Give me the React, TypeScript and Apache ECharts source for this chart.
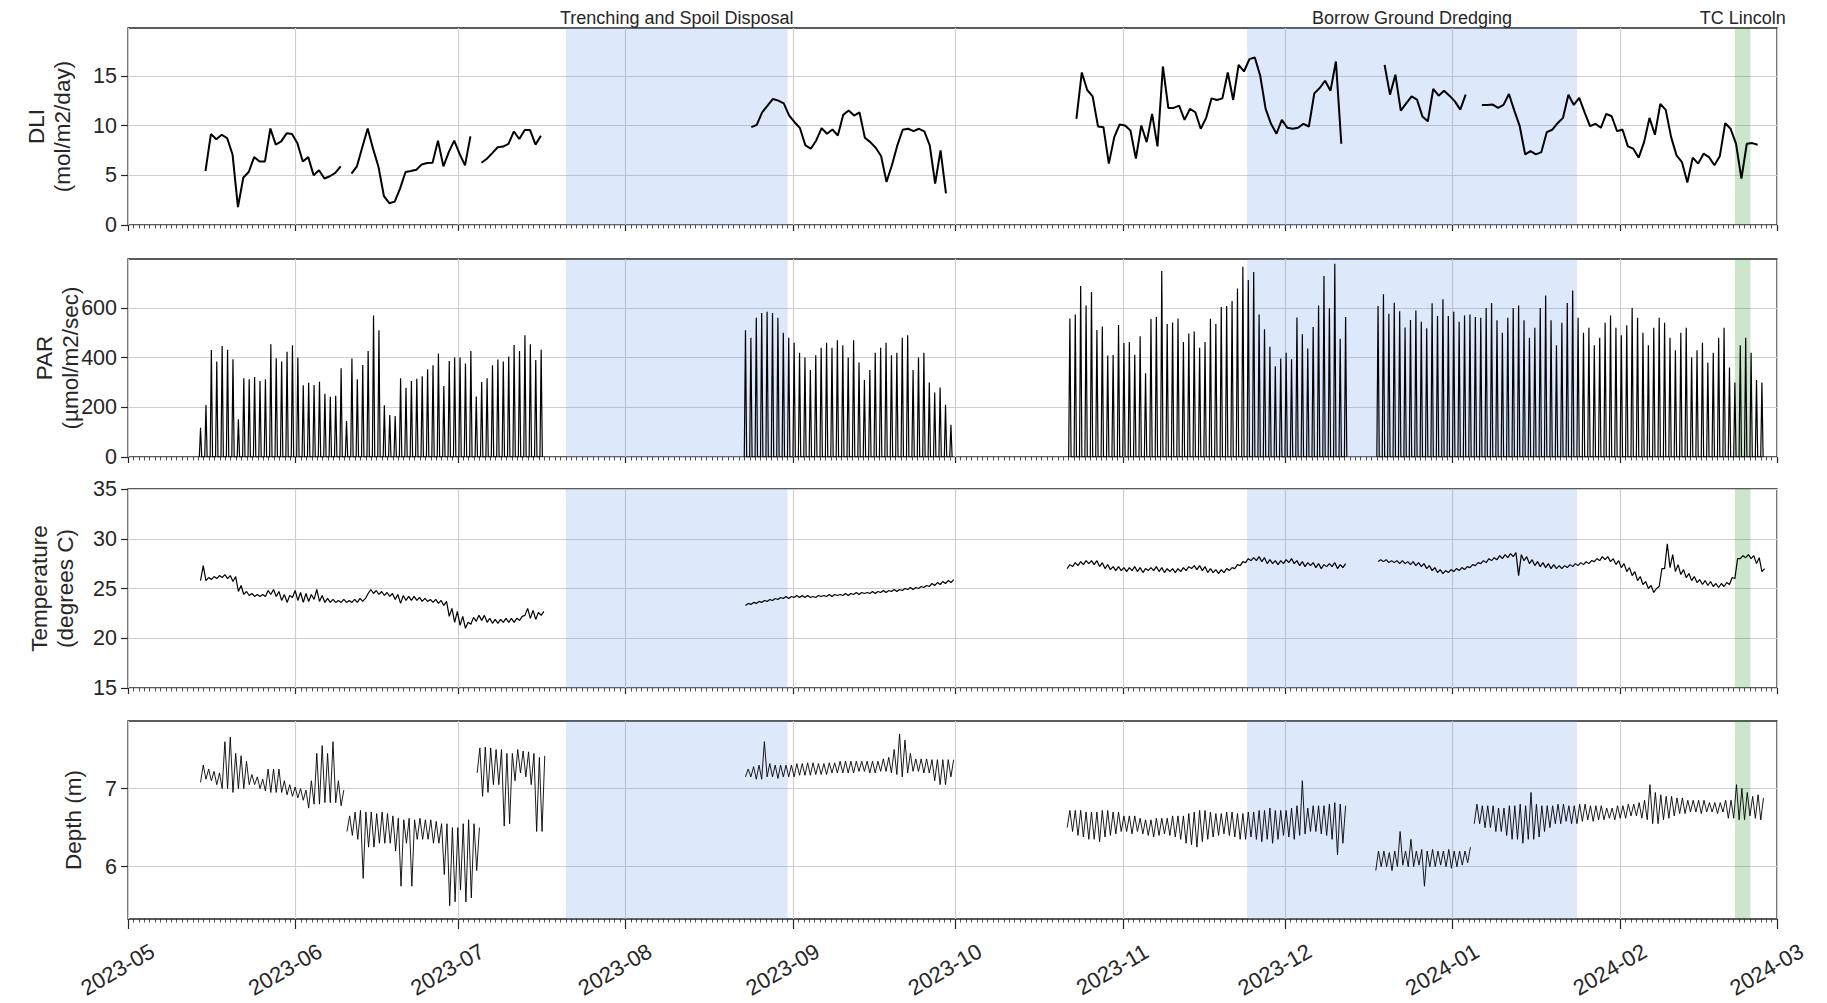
import React, { useEffect, useRef } from 'react';
import * as echarts from 'echarts';

const DAY = 86400000;
const X_MIN = '2023-05-01';
const X_MAX = '2024-03-01';
const monthTicks = ['2023-05-01', '2023-06-01', '2023-07-01', '2023-08-01', '2023-09-01', '2023-10-01', '2023-11-01', '2023-12-01', '2024-01-01', '2024-02-01', '2024-03-01'];

const eventNames = ['Trenching and Spoil Disposal', 'Borrow Ground Dredging', 'TC Lincoln'];
const eventStarts = ['2023-07-21', '2023-11-24', '2024-02-22T05:00:00Z'];
const eventEnds = ['2023-08-31', '2024-01-24', '2024-02-25T02:00:00Z'];
const eventKinds = ['works', 'works', 'cyclone'];

// DLI (mol/m2/day), daily values per deployment segment
const dliStarts = ['2023-05-15T08:00:00Z', '2023-06-11T08:00:00Z', '2023-07-05T09:00:00Z', '2023-08-24T07:00:00Z', '2023-10-23T10:00:00Z', '2023-12-19T10:00:00Z', '2024-01-06T10:00:00Z'];
const dliSeg1 = [5.43, 9.14, 8.61, 9.07, 8.74, 7.09, 1.79, 4.77, 5.33, 6.82, 6.39, 6.39, 9.7, 8.08, 8.41, 9.21, 9.14, 8.21, 6.39, 6.82, 5.0, 5.5, 4.67, 4.9, 5.23, 5.89];
const dliSeg2 = [5.17, 5.89, 7.81, 9.7, 7.65, 5.83, 2.91, 2.19, 2.35, 3.68, 5.33, 5.43, 5.56, 6.09, 6.23, 6.26, 8.48, 5.89, 7.32, 8.48, 7.15, 5.99, 8.91];
const dliSeg3 = [6.26, 6.66, 7.22, 7.81, 7.88, 8.15, 9.4, 8.64, 9.54, 9.54, 8.08, 8.97];
const dliSeg4 = [9.83, 10.07, 11.33, 12.0, 12.67, 12.5, 12.23, 11.0, 10.33, 9.73, 8.0, 7.67, 8.5, 9.73, 9.17, 9.6, 9.0, 11.07, 11.5, 11.0, 11.33, 8.77, 8.33, 7.77, 6.93, 4.33, 6.0, 8.0, 9.57, 9.67, 9.43, 9.67, 9.4, 8.0, 4.17, 7.5, 3.17];
const dliSeg5 = [10.67, 15.33, 13.57, 12.93, 9.9, 9.83, 6.17, 8.83, 10.1, 10.0, 9.5, 6.67, 10.0, 8.33, 11.17, 7.9, 15.93, 11.77, 11.77, 12.0, 10.57, 11.67, 11.33, 9.67, 10.77, 12.73, 12.57, 12.73, 15.33, 12.57, 16.1, 15.43, 16.67, 16.83, 15.0, 11.67, 10.17, 9.17, 10.57, 9.77, 9.67, 9.77, 10.17, 9.9, 13.23, 13.77, 14.5, 13.5, 16.43, 8.17];
const dliSeg6 = [16.1, 13.1, 15.1, 11.5, 12.23, 12.93, 12.6, 10.9, 10.43, 13.67, 13.0, 13.5, 13.0, 12.43, 11.6, 13.1];
const dliSeg7 = [12.07, 12.07, 12.1, 11.77, 12.07, 13.17, 11.5, 9.93, 7.1, 7.43, 7.1, 7.33, 9.33, 9.57, 10.23, 10.77, 13.1, 12.07, 12.77, 11.33, 9.93, 10.17, 9.77, 11.17, 10.93, 9.43, 9.6, 7.9, 7.67, 6.77, 8.33, 10.77, 9.07, 12.17, 11.57, 8.83, 7.0, 6.33, 4.27, 6.77, 6.17, 7.17, 6.83, 6.0, 6.9, 10.23, 9.67, 8.17, 4.67, 8.17, 8.23, 8.07];

// PAR daily peaks (umol/m2/sec); nights read as 0
const parStarts = ['2023-05-14T10:00:00Z', '2023-08-23T05:00:00Z', '2023-10-22T05:00:00Z', '2023-12-18T05:00:00Z'];
const parSeg1 = [118, 209, 431, 384, 447, 432, 393, 152, 317, 313, 322, 306, 313, 454, 397, 384, 424, 450, 400, 289, 299, 290, 303, 255, 242, 246, 357, 145, 396, 313, 370, 427, 570, 510, 208, 169, 165, 317, 279, 306, 315, 325, 353, 369, 417, 286, 386, 400, 400, 376, 427, 243, 302, 317, 369, 392, 384, 405, 451, 427, 490, 454, 390, 432];
const parSeg2 = [510, 480, 560, 580, 585, 580, 560, 500, 480, 460, 420, 400, 350, 410, 440, 460, 440, 470, 450, 400, 470, 380, 310, 350, 420, 440, 460, 410, 420, 480, 490, 350, 400, 420, 300, 260, 280, 210, 130];
const parSeg3 = [557, 574, 688, 610, 664, 511, 525, 409, 411, 531, 459, 463, 412, 486, 337, 555, 564, 749, 535, 541, 557, 463, 497, 505, 440, 463, 556, 535, 604, 608, 628, 678, 766, 712, 745, 574, 514, 444, 365, 396, 420, 393, 561, 494, 437, 523, 610, 729, 599, 778, 476, 564];
const parSeg4 = [608, 655, 577, 621, 587, 521, 551, 590, 544, 518, 619, 568, 635, 568, 585, 544, 570, 574, 564, 560, 600, 620, 550, 500, 560, 600, 610, 550, 480, 520, 600, 650, 550, 450, 540, 620, 670, 560, 500, 520, 450, 480, 540, 570, 520, 490, 530, 600, 560, 500, 450, 520, 560, 540, 480, 430, 500, 520, 400, 430, 460, 380, 420, 480, 520, 360, 300, 450, 480, 420, 310, 300];
const parNight = 0;

// Temperature (degrees C), daily low and high
const tempStarts = ['2023-05-14T10:00:00Z', '2023-08-23T05:00:00Z', '2023-10-21T17:00:00Z', '2023-12-18T05:00:00Z'];
const tempLo1 = [25.8, 25.8, 25.9, 26.0, 26.1, 26.0, 25.7, 24.7, 24.4, 24.3, 24.2, 24.2, 24.2, 24.4, 24.2, 23.8, 23.6, 24.1, 23.8, 23.6, 23.7, 23.9, 23.7, 23.6, 23.6, 23.6, 23.6, 23.6, 23.6, 23.6, 23.7, 24.5, 24.5, 24.4, 24.3, 24.2, 23.9, 23.5, 23.8, 23.8, 23.8, 23.7, 23.7, 23.6, 23.5, 23.3, 22.2, 21.6, 21.3, 21.0, 21.4, 21.7, 21.8, 21.6, 21.5, 21.5, 21.6, 21.6, 21.6, 21.8, 22.3, 22.0, 21.9, 22.3];
const tempHi1 = [27.3, 26.1, 26.2, 26.3, 26.4, 26.3, 26.2, 25.3, 24.7, 24.5, 24.4, 24.4, 24.8, 24.9, 24.7, 24.4, 24.3, 24.8, 24.6, 24.5, 24.4, 24.9, 24.3, 24.0, 23.9, 23.8, 23.9, 23.8, 23.9, 24.0, 24.0, 24.9, 24.8, 24.7, 24.6, 24.5, 24.4, 24.3, 24.2, 24.2, 24.1, 24.0, 23.9, 23.9, 23.8, 23.7, 23.0, 22.7, 22.2, 21.6, 22.1, 22.3, 22.3, 22.0, 21.9, 21.9, 22.0, 22.0, 22.0, 22.2, 23.0, 22.8, 22.6, 22.7];
const tempLo2 = [23.3, 23.4, 23.5, 23.6, 23.7, 23.8, 23.9, 24.0, 24.0, 24.1, 24.1, 24.1, 24.1, 24.1, 24.2, 24.2, 24.2, 24.3, 24.3, 24.3, 24.4, 24.4, 24.5, 24.5, 24.5, 24.6, 24.6, 24.7, 24.7, 24.8, 24.9, 24.9, 25.0, 25.1, 25.2, 25.3, 25.4, 25.5, 25.6];
const tempHi2 = [23.5, 23.6, 23.7, 23.8, 23.9, 24.0, 24.1, 24.2, 24.2, 24.3, 24.3, 24.3, 24.2, 24.3, 24.3, 24.4, 24.4, 24.4, 24.5, 24.5, 24.6, 24.6, 24.6, 24.7, 24.7, 24.8, 24.8, 24.9, 24.9, 25.0, 25.1, 25.1, 25.2, 25.3, 25.5, 25.6, 25.7, 25.8, 25.9];
const tempLo3 = [27.0, 27.2, 27.3, 27.4, 27.5, 27.4, 27.2, 27.0, 26.9, 26.8, 26.8, 26.7, 26.8, 26.7, 26.6, 26.8, 26.8, 26.7, 26.6, 26.7, 26.6, 26.7, 26.8, 27.0, 26.9, 26.8, 26.6, 26.6, 26.5, 26.6, 26.8, 27.0, 27.3, 27.6, 27.8, 27.8, 27.7, 27.5, 27.5, 27.4, 27.5, 27.6, 27.5, 27.3, 27.2, 27.3, 27.1, 27.0, 27.2, 27.2, 27.0, 27.1];
const tempHi3 = [27.4, 27.6, 27.7, 27.8, 27.8, 27.8, 27.6, 27.4, 27.2, 27.2, 27.1, 27.1, 27.2, 27.1, 27.0, 27.1, 27.2, 27.1, 27.0, 27.0, 27.0, 27.1, 27.2, 27.3, 27.3, 27.2, 27.0, 26.9, 26.9, 27.0, 27.1, 27.4, 27.7, 28.0, 28.1, 28.2, 28.1, 27.9, 27.8, 27.8, 27.9, 28.0, 27.8, 27.7, 27.6, 27.6, 27.5, 27.4, 27.5, 27.6, 27.4, 27.5];
const tempLo4 = [27.7, 27.7, 27.6, 27.6, 27.5, 27.5, 27.4, 27.3, 27.2, 27.0, 26.8, 26.6, 26.5, 26.6, 26.7, 26.8, 26.9, 27.1, 27.3, 27.5, 27.6, 27.8, 27.9, 28.0, 28.1, 28.2, 26.3, 27.8, 27.5, 27.3, 27.2, 27.1, 27.0, 27.0, 27.0, 27.1, 27.2, 27.3, 27.4, 27.5, 27.7, 27.8, 27.9, 27.7, 27.4, 27.1, 26.7, 26.3, 25.8, 25.4, 25.0, 24.6, 25.2, 27.0, 27.1, 26.7, 26.4, 26.1, 25.8, 25.6, 25.4, 25.3, 25.2, 25.1, 25.2, 25.4, 26.0, 28.0, 28.1, 28.0, 27.5, 26.7];
const tempHi4 = [27.9, 27.9, 27.8, 27.8, 27.8, 27.7, 27.7, 27.6, 27.5, 27.3, 27.1, 26.9, 26.8, 26.9, 27.0, 27.1, 27.2, 27.4, 27.6, 27.8, 28.0, 28.1, 28.3, 28.4, 28.5, 28.6, 28.4, 28.2, 27.9, 27.7, 27.6, 27.5, 27.4, 27.3, 27.3, 27.4, 27.5, 27.6, 27.7, 27.8, 28.0, 28.2, 28.2, 28.0, 27.8, 27.5, 27.1, 26.7, 26.2, 25.7, 25.3, 25.0, 27.0, 29.5, 28.4, 27.4, 26.9, 26.5, 26.2, 25.9, 25.8, 25.7, 25.5, 25.5, 25.6, 26.1, 28.0, 28.3, 28.4, 28.3, 28.1, 27.0];

// Depth (m), daily low and high
const depthStarts = ['2023-05-14T10:00:00Z', '2023-06-10T12:00:00Z', '2023-07-04T14:00:00Z', '2023-08-23T05:00:00Z', '2023-10-21T17:00:00Z', '2023-12-17T19:00:00Z', '2024-01-05T00:00:00Z'];
const depthLo1 = [7.08, 7.12, 7.1, 7.05, 7.0, 7.0, 6.95, 7.0, 7.0, 7.05, 7.05, 7.0, 6.97, 6.95, 6.95, 6.95, 6.92, 6.9, 6.88, 6.85, 6.75, 6.8, 6.8, 6.82, 6.82, 6.82, 6.78];
const depthHi1 = [7.3, 7.25, 7.22, 7.2, 7.6, 7.66, 7.45, 7.42, 7.35, 7.18, 7.15, 7.12, 7.25, 7.25, 7.25, 7.1, 7.05, 7.02, 7.0, 6.98, 7.1, 7.45, 7.55, 7.45, 7.6, 7.1, 6.98];
const depthLo2 = [6.45, 6.4, 6.35, 5.85, 6.25, 6.25, 6.3, 6.3, 6.3, 6.2, 5.75, 6.3, 5.75, 6.35, 6.35, 6.35, 6.3, 6.3, 5.9, 5.5, 5.55, 5.7, 5.55, 5.6, 5.95];
const depthHi2 = [6.65, 6.7, 6.72, 6.7, 6.7, 6.68, 6.7, 6.68, 6.65, 6.62, 6.6, 6.62, 6.6, 6.62, 6.6, 6.6, 6.58, 6.55, 6.55, 6.5, 6.5, 6.55, 6.6, 6.55, 6.5];
const depthLo3 = [7.2, 6.9, 6.95, 7.05, 7.05, 6.52, 6.55, 7.1, 7.2, 7.15, 7.05, 6.45, 6.45];
const depthHi3 = [7.52, 7.53, 7.52, 7.5, 7.5, 7.45, 7.45, 7.5, 7.48, 7.47, 7.45, 7.4, 7.42];
const depthLo4 = [7.15, 7.15, 7.12, 7.12, 7.15, 7.15, 7.13, 7.15, 7.15, 7.15, 7.17, 7.17, 7.17, 7.18, 7.18, 7.18, 7.2, 7.2, 7.2, 7.2, 7.2, 7.22, 7.22, 7.2, 7.2, 7.22, 7.22, 7.2, 7.18, 7.15, 7.2, 7.22, 7.22, 7.2, 7.2, 7.1, 7.05, 7.05, 7.15];
const depthHi4 = [7.25, 7.28, 7.3, 7.6, 7.32, 7.3, 7.3, 7.3, 7.3, 7.32, 7.32, 7.33, 7.33, 7.32, 7.32, 7.33, 7.33, 7.35, 7.35, 7.35, 7.35, 7.35, 7.35, 7.35, 7.35, 7.38, 7.4, 7.5, 7.7, 7.62, 7.45, 7.38, 7.38, 7.38, 7.37, 7.37, 7.37, 7.37, 7.37];
const depthLo5 = [6.5, 6.45, 6.4, 6.38, 6.35, 6.35, 6.32, 6.38, 6.4, 6.42, 6.45, 6.45, 6.42, 6.45, 6.42, 6.4, 6.38, 6.4, 6.42, 6.4, 6.38, 6.35, 6.3, 6.28, 6.25, 6.32, 6.35, 6.38, 6.4, 6.42, 6.4, 6.38, 6.35, 6.35, 6.38, 6.35, 6.32, 6.35, 6.3, 6.35, 6.4, 6.38, 6.35, 6.4, 6.42, 6.45, 6.45, 6.42, 6.4, 6.35, 6.15, 6.3];
const depthHi5 = [6.72, 6.72, 6.72, 6.7, 6.7, 6.7, 6.72, 6.72, 6.7, 6.7, 6.65, 6.65, 6.65, 6.62, 6.6, 6.6, 6.62, 6.62, 6.62, 6.65, 6.65, 6.65, 6.68, 6.7, 6.72, 6.72, 6.7, 6.68, 6.68, 6.7, 6.7, 6.68, 6.68, 6.7, 6.7, 6.72, 6.72, 6.75, 6.72, 6.72, 6.72, 6.75, 6.78, 7.1, 6.75, 6.78, 6.78, 6.78, 6.8, 6.82, 6.8, 6.78];
const depthLo6 = [5.95, 6.0, 6.0, 5.95, 6.0, 6.02, 6.0, 6.0, 6.02, 5.75, 6.0, 6.0, 6.02, 6.0, 5.98, 6.0, 6.02, 6.05];
const depthHi6 = [6.2, 6.2, 6.18, 6.2, 6.45, 6.2, 6.35, 6.2, 6.22, 6.2, 6.22, 6.2, 6.2, 6.22, 6.2, 6.2, 6.2, 6.25];
const depthLo7 = [6.55, 6.55, 6.5, 6.5, 6.45, 6.45, 6.4, 6.35, 6.35, 6.3, 6.35, 6.35, 6.38, 6.45, 6.5, 6.55, 6.55, 6.58, 6.55, 6.55, 6.58, 6.6, 6.58, 6.6, 6.6, 6.62, 6.6, 6.62, 6.62, 6.65, 6.65, 6.62, 6.6, 6.55, 6.55, 6.6, 6.62, 6.65, 6.68, 6.68, 6.7, 6.7, 6.68, 6.7, 6.7, 6.68, 6.7, 6.62, 6.62, 6.6, 6.6, 6.65, 6.62, 6.6];
const depthHi7 = [6.8, 6.78, 6.78, 6.78, 6.75, 6.75, 6.78, 6.78, 6.8, 6.78, 6.95, 6.8, 6.78, 6.78, 6.78, 6.8, 6.8, 6.78, 6.78, 6.8, 6.8, 6.78, 6.78, 6.78, 6.75, 6.75, 6.78, 6.78, 6.8, 6.8, 6.82, 6.85, 7.05, 6.95, 6.92, 6.9, 6.9, 6.88, 6.88, 6.85, 6.85, 6.85, 6.85, 6.82, 6.82, 6.82, 6.85, 6.85, 7.05, 7.0, 6.95, 6.9, 6.92, 6.88];

const yNames = ['DLI\n(mol/m2/day)', 'PAR\n(µmol/m2/sec)', 'Temperature\n(degrees C)', 'Depth (m)'];
const yMins = [0, 0, 15, 5.33];
const yMaxs = [19.8, 797, 35, 7.865];
const yTicks = [[0, 5, 10, 15], [0, 200, 400, 600], [15, 20, 25, 30, 35], [6, 7]];

const FONT = 'Liberation Sans, Arial, Helvetica, sans-serif';
const TXT = '#262626';

function ts(s: string): number {
  return Date.parse(s.length === 10 ? s + 'T00:00:00Z' : s);
}

function fmtMonth(v: number): string {
  const d = new Date(v);
  return d.getUTCFullYear() + '-' + String(d.getUTCMonth() + 1).padStart(2, '0');
}

function dailyPoints(start: string, vals: number[]): number[][] {
  const t0 = ts(start);
  return vals.map((v, i) => [t0 + i * DAY, v]);
}

// each daily peak between the night-time zero readings
function spikePoints(start: string, peaks: number[]): number[][] {
  const t0 = ts(start);
  const out: number[][] = [];
  peaks.forEach((v, i) => {
    const t = t0 + i * DAY;
    out.push([t - 0.22 * DAY, parNight], [t, v], [t + 0.22 * DAY, parNight]);
  });
  return out;
}

function rangePoints(start: string, lo: number[], hi: number[]): number[][] {
  const t0 = ts(start);
  const n = Math.min(lo.length, hi.length);
  const out: number[][] = [];
  for (let i = 0; i < n; i++) {
    out.push([t0 + i * DAY, lo[i]]);
    out.push([t0 + i * DAY + DAY / 2, hi[i]]);
  }
  return out;
}

const GRID_TOPS = [28, 259, 489, 721];
const GRID_H = [197, 198, 199, 198];
const NAME_GAPS = [53, 45, 50, 42];

export default function App() {
  const ref = useRef<HTMLDivElement>(null);
  useEffect(() => {
    document.body.style.margin = '0';
    if (!ref.current) return;
    const chart = echarts.init(ref.current, null, { renderer: 'svg' });
    const monthTs = monthTicks.map(ts);
    const xMin = ts(X_MIN);
    const xMax = ts(X_MAX);

    const grids = GRID_TOPS.map((top, g) => ({
      left: 128, right: 50, top, height: GRID_H[g],
      show: true, borderColor: TXT, borderWidth: 1.3, backgroundColor: 'transparent',
    }));

    const xAxes: any[] = [];
    GRID_TOPS.forEach((_, g) => {
      xAxes.push({
        type: 'value', gridIndex: g, position: 'bottom', min: xMin, max: xMax,
        axisLine: { show: false },
        axisTick: { show: true, customValues: monthTs, length: g === 3 ? 10 : 6, lineStyle: { color: TXT, width: 1.2 } },
        axisLabel: {
          show: g === 3, customValues: monthTs, formatter: (v: number) => fmtMonth(v),
          rotate: 30, align: 'center', verticalAlign: 'middle', margin: 44.5, padding: [0, 24, 0, 0],
          fontSize: 22, color: TXT, fontFamily: FONT,
        },
        splitLine: { show: true, lineStyle: { color: '#cfcfcf', width: 1.2 } },
      });
      xAxes.push({
        type: 'value', gridIndex: g, position: 'bottom', offset: 0, min: xMin, max: xMax, interval: DAY,
        axisLine: { show: false },
        axisTick: { show: true, length: 3.5, lineStyle: { color: TXT, width: 0.8 } },
        axisLabel: { show: false },
        splitLine: { show: false },
      });
    });

    const yAxes = GRID_TOPS.map((_, g) => {
      const ax: any = {
        type: 'value', gridIndex: g, min: yMins[g], max: yMaxs[g],
        name: yNames[g], nameLocation: 'middle', nameGap: NAME_GAPS[g], nameMoveOverlap: false,
        nameTextStyle: { fontSize: 22.5, color: TXT, fontFamily: FONT, lineHeight: 26 },
        axisLine: { show: false },
        axisTick: { show: true, customValues: yTicks[g], length: 7, lineStyle: { color: TXT, width: 1.2 } },
        axisLabel: { show: true, customValues: yTicks[g], margin: 11, fontSize: 21.5, color: TXT, fontFamily: FONT },
        splitLine: { show: true, lineStyle: { color: '#cfcfcf', width: 1.2 } },
      };
      if (g !== 3) ax.interval = [5, 200, 5][g];
      return ax;
    });

    const series: any[] = [];
    // shaded event periods
    GRID_TOPS.forEach((_, g) => {
      series.push({
        type: 'line', xAxisIndex: g * 2, yAxisIndex: g, data: [], z: 1, silent: true,
        markArea: {
          silent: true,
          label: { show: g === 0, position: 'top', distance: 1.5, fontSize: 18, color: TXT, fontFamily: FONT },
          data: eventNames.map((name, k) => [
            { name, xAxis: ts(eventStarts[k]), itemStyle: { color: eventKinds[k] === 'works' ? 'rgba(100,149,237,0.22)' : 'rgba(0,128,0,0.2)' } },
            { xAxis: ts(eventEnds[k]) },
          ]),
        },
      });
    });

    const line = (g: number, data: number[][], width: number) => ({
      type: 'line', xAxisIndex: g * 2, yAxisIndex: g, data, showSymbol: false, symbol: 'none',
      lineStyle: { color: '#000', width }, z: 3, silent: true,
    });

    [dliSeg1, dliSeg2, dliSeg3, dliSeg4, dliSeg5, dliSeg6, dliSeg7].forEach((vals, i) => {
      series.push(line(0, dailyPoints(dliStarts[i], vals), 2));
    });

    [parSeg1, parSeg2, parSeg3, parSeg4].forEach((vals, i) => {
      series.push(line(1, spikePoints(parStarts[i], vals), 1.2));
    });

    const tempLos = [tempLo1, tempLo2, tempLo3, tempLo4];
    const tempHis = [tempHi1, tempHi2, tempHi3, tempHi4];
    tempLos.forEach((lo, i) => {
      series.push(line(2, rangePoints(tempStarts[i], lo, tempHis[i]), 1.2));
    });

    const depthLos = [depthLo1, depthLo2, depthLo3, depthLo4, depthLo5, depthLo6, depthLo7];
    const depthHis = [depthHi1, depthHi2, depthHi3, depthHi4, depthHi5, depthHi6, depthHi7];
    depthLos.forEach((lo, i) => {
      series.push(line(3, rangePoints(depthStarts[i], lo, depthHis[i]), 0.9));
    });

    chart.setOption({
      animation: false,
      textStyle: { fontFamily: FONT },
      grid: grids,
      xAxis: xAxes,
      yAxis: yAxes,
      series,
    });
    return () => chart.dispose();
  }, []);
  return <div ref={ref} style={{ width: 1827, height: 1003 }} />;
}
